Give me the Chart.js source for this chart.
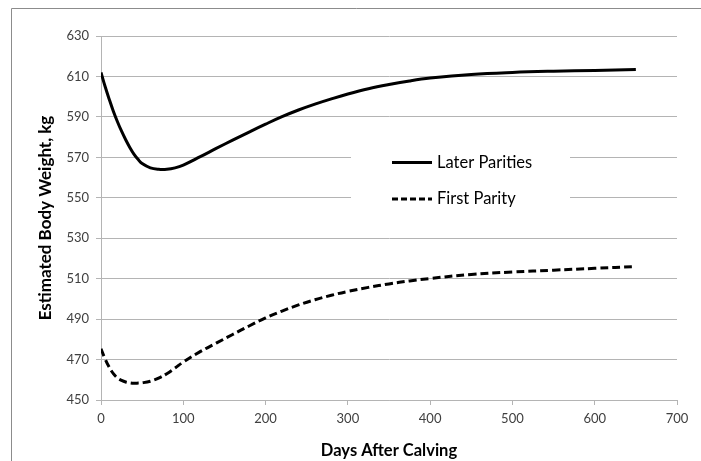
<!DOCTYPE html>
<html>
<head>
<meta charset="utf-8">
<script src="https://cdn.jsdelivr.net/npm/chart.js@4"></script>
<style>
  html, body { margin: 0; padding: 0; background: #ffffff; }
  #wrap { width: 701px; height: 461px; position: relative; }
</style>
</head>
<body>
<div id="wrap"><canvas id="c" width="701" height="461"></canvas></div>
<script>
// ---- data ----
const days = [0, 5, 10, 15, 20, 25, 30, 35, 40, 45, 50, 60, 70, 80, 90, 100, 120, 140, 160, 180, 200, 220, 240, 260, 280, 300, 325, 350, 375, 400, 450, 500, 550, 600, 650];
const laterParities = [612, 605, 598.7, 592.8, 587.6, 582.9, 578.7, 574.9, 571.6, 569.0, 566.9, 564.8, 564.1, 564.1, 564.8, 566.2, 570.2, 574.4, 578.5, 582.5, 586.4, 590.1, 593.4, 596.3, 598.9, 601.3, 603.9, 606.0, 607.8, 609.2, 611.0, 612.0, 612.6, 613.0, 613.4];
const firstParity = [475.3, 470.3, 466.2, 463.0, 460.9, 459.7, 458.9, 458.5, 458.3, 458.35, 458.5, 459.3, 460.8, 463.0, 465.8, 468.8, 473.8, 478.1, 482.4, 486.6, 490.6, 494.0, 497.0, 499.6, 501.8, 503.7, 505.7, 507.4, 508.9, 510.1, 512.1, 513.3, 514.2, 515.1, 516.0];
const seriesNames = ['Later Parities', 'First Parity'];
const xTitle = 'Days After Calving';
const yTitle = 'Estimated Body Weight, kg';
const yMin = 450, yMax = 630, yStep = 20;
const xMin = 0, xMax = 700, xStep = 100;

const toPts = (vals) => days.map((d, i) => ({ x: d, y: vals[i] }));

const FONT = 'Lato, "Open Sans", sans-serif';
const GRID = '#b4b4b4';

const framePlugin = {
  id: 'frame',
  beforeDraw(chart) {
    const ctx = chart.ctx;
    ctx.save();
    ctx.strokeStyle = '#8c8c8c';
    ctx.lineWidth = 1;
    ctx.beginPath();
    ctx.moveTo(11.5, 470);
    ctx.lineTo(11.5, 8.5);
    ctx.lineTo(710, 8.5);
    ctx.stroke();
    ctx.restore();
  }
};

const legendPlugin = {
  id: 'insideLegend',
  beforeDatasetsDraw(chart) {
    const ctx = chart.ctx;
    ctx.save();
    ctx.fillStyle = '#ffffff';
    ctx.fillRect(351, 130, 219, 95);
    const rows = [162.5, 199];
    chart.data.datasets.forEach((ds, i) => {
      const y = rows[i];
      ctx.strokeStyle = ds.borderColor;
      ctx.lineWidth = 3;
      ctx.setLineDash(ds.borderDash ? [6, 3] : []);
      ctx.beginPath();
      ctx.moveTo(392, y);
      ctx.lineTo(432, y);
      ctx.stroke();
      ctx.setLineDash([]);
      ctx.fillStyle = '#000000';
      ctx.font = '16.5px ' + FONT;
      ctx.textBaseline = 'middle';
      ctx.textAlign = 'left';
      ctx.fillText(ds.label, 437, y);
    });
    ctx.restore();
  }
};

new Chart(document.getElementById('c'), {
  type: 'line',
  data: {
    datasets: [
      {
        label: seriesNames[0],
        data: toPts(laterParities),
        borderColor: '#000000',
        borderWidth: 3,
        pointRadius: 0,
        tension: 0.4,
        fill: false
      },
      {
        label: seriesNames[1],
        data: toPts(firstParity),
        borderColor: '#000000',
        borderWidth: 3,
        borderDash: [8, 4],
        pointRadius: 0,
        tension: 0.4,
        fill: false
      }
    ]
  },
  options: {
    responsive: false,
    animation: false,
    devicePixelRatio: 1,
    layout: { padding: { left: 11, top: 36, right: 24, bottom: 0 } },
    plugins: {
      legend: { display: false },
      tooltip: { enabled: false }
    },
    scales: {
      x: {
        type: 'linear',
        min: xMin, max: xMax,
        ticks: { stepSize: xStep, color: '#404040', font: { family: FONT, size: 13 }, padding: 6, maxRotation: 0 },
        grid: { display: true, drawOnChartArea: false, drawTicks: true, tickLength: 5, color: GRID },
        border: { display: true, color: GRID },
        title: { display: true, text: xTitle, color: '#000000', font: { family: FONT, size: 16.5, weight: 'bold' }, padding: { top: 2, bottom: 0 } },
        afterFit(scale) { scale.height = 61; }
      },
      y: {
        min: yMin, max: yMax,
        ticks: { stepSize: yStep, color: '#404040', font: { family: FONT, size: 13 }, padding: 7 },
        grid: { color: GRID, drawTicks: true, tickLength: 5 },
        border: { display: true, color: GRID },
        title: { display: true, text: yTitle, color: '#000000', font: { family: FONT, size: 17, weight: 'bold' }, padding: { top: 24, bottom: 0 } },
        afterFit(scale) { scale.width = 90; }
      }
    }
  },
  plugins: [framePlugin, legendPlugin]
});
</script>
</body>
</html>
